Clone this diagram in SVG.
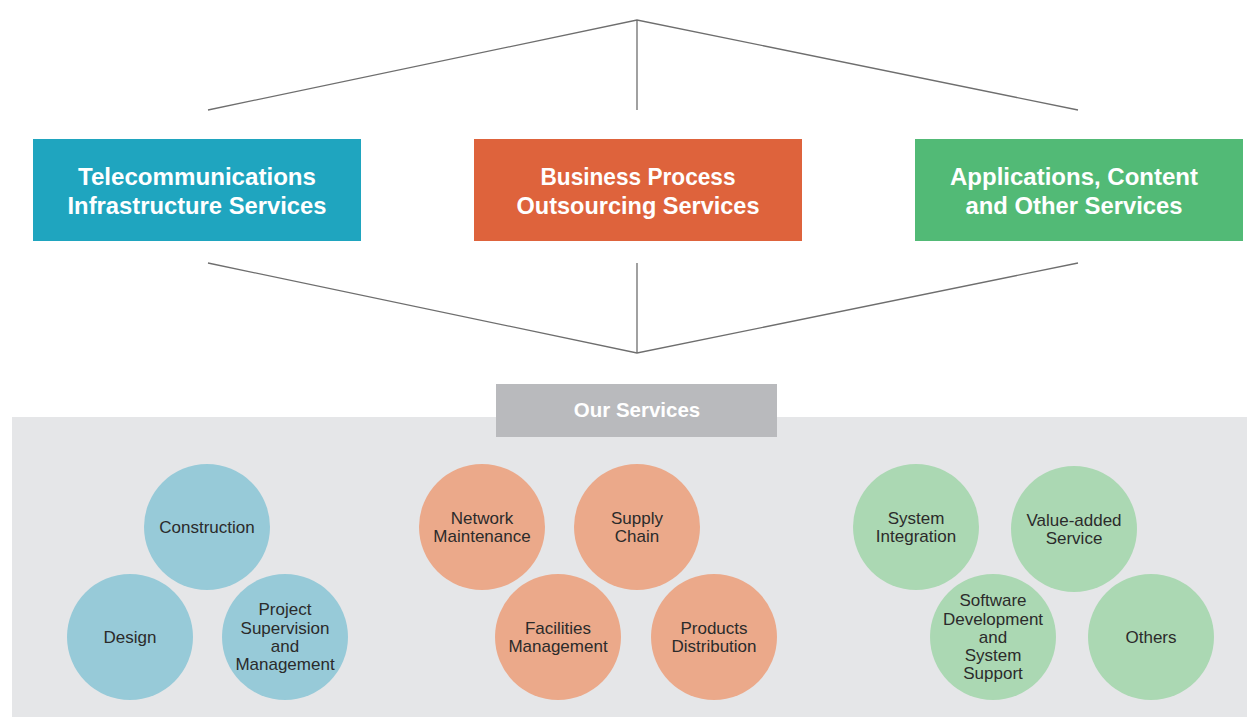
<svg xmlns="http://www.w3.org/2000/svg" width="1247" height="717" viewBox="0 0 1247 717">
  <style>
    .box-title { font-family: "Liberation Sans", Arial, sans-serif; font-weight: bold; font-size: 24px; fill: #ffffff; text-anchor: middle; }
    .tag { font-family: "Liberation Sans", Arial, sans-serif; font-weight: bold; font-size: 20.5px; fill: #ffffff; text-anchor: middle; }
    .bubble { font-family: "Liberation Sans", Arial, sans-serif; font-size: 17px; fill: #2b2b2b; text-anchor: middle; }
    .link { stroke: #6e6e6e; stroke-width: 1.3; fill: none; }
    .blue { fill: #97CAD8; }
    .orange { fill: #EBA98A; }
    .green { fill: #ABD8B3; }
  </style>

  <rect x="0" y="0" width="1247" height="717" fill="#ffffff"/>

  <!-- connectors: fan lines above and below the three categories -->
  <g id="connectors">
    <polyline class="link" points="208,110 637,20 1078,110"/>
    <line class="link" x1="637" y1="20" x2="637" y2="110"/>
    <polyline class="link" points="208,263 637,353 1078,263"/>
    <line class="link" x1="637" y1="263" x2="637" y2="353"/>
  </g>

  <!-- service categories -->
  <g id="telecom-infrastructure">
    <rect x="33" y="139" width="328" height="102" fill="#1FA5BF"/>
    <text class="box-title" x="197" y="185" textLength="238" lengthAdjust="spacingAndGlyphs">Telecommunications</text>
    <text class="box-title" x="197" y="214" textLength="259" lengthAdjust="spacingAndGlyphs">Infrastructure Services</text>
  </g>
  <g id="business-process">
    <rect x="474" y="139" width="328" height="102" fill="#DE633C"/>
    <text class="box-title" x="638" y="185" textLength="195" lengthAdjust="spacingAndGlyphs">Business Process</text>
    <text class="box-title" x="638" y="214" textLength="243" lengthAdjust="spacingAndGlyphs">Outsourcing Services</text>
  </g>
  <g id="applications-content">
    <rect x="915" y="139" width="328" height="102" fill="#52BA76"/>
    <text class="box-title" x="1074" y="185" textLength="248" lengthAdjust="spacingAndGlyphs">Applications, Content</text>
    <text class="box-title" x="1074" y="214" textLength="217" lengthAdjust="spacingAndGlyphs">and Other Services</text>
  </g>

  <!-- services panel -->
  <g id="services-panel">
    <rect x="12" y="417" width="1235" height="300" fill="#E5E6E8"/>
  </g>
  <g id="our-services">
    <rect x="496" y="384" width="281" height="53" fill="#B9BABD"/>
    <text class="tag" x="637" y="417">Our Services</text>
  </g>

  <!-- telecom infrastructure bubbles -->
  <g id="construction">
    <circle class="blue" cx="207" cy="527" r="63"/>
    <text class="bubble" x="207" y="533">Construction</text>
  </g>
  <g id="design">
    <circle class="blue" cx="130" cy="637" r="63"/>
    <text class="bubble" x="130" y="643">Design</text>
  </g>
  <g id="project-supervision">
    <circle class="blue" cx="285" cy="637" r="63"/>
    <text class="bubble" x="285" y="615">Project</text>
    <text class="bubble" x="285" y="633.5">Supervision</text>
    <text class="bubble" x="285" y="652">and</text>
    <text class="bubble" x="285" y="670">Management</text>
  </g>

  <!-- business process bubbles -->
  <g id="network-maintenance">
    <circle class="orange" cx="482" cy="527" r="63"/>
    <text class="bubble" x="482" y="524">Network</text>
    <text class="bubble" x="482" y="542">Maintenance</text>
  </g>
  <g id="supply-chain">
    <circle class="orange" cx="637" cy="527" r="63"/>
    <text class="bubble" x="637" y="524">Supply</text>
    <text class="bubble" x="637" y="542">Chain</text>
  </g>
  <g id="facilities-management">
    <circle class="orange" cx="558" cy="637" r="63"/>
    <text class="bubble" x="558" y="634">Facilities</text>
    <text class="bubble" x="558" y="652">Management</text>
  </g>
  <g id="products-distribution">
    <circle class="orange" cx="714" cy="637" r="63"/>
    <text class="bubble" x="714" y="634">Products</text>
    <text class="bubble" x="714" y="652">Distribution</text>
  </g>

  <!-- applications bubbles -->
  <g id="system-integration">
    <circle class="green" cx="916" cy="527" r="63"/>
    <text class="bubble" x="916" y="524">System</text>
    <text class="bubble" x="916" y="542">Integration</text>
  </g>
  <g id="value-added">
    <circle class="green" cx="1074" cy="529" r="63"/>
    <text class="bubble" x="1074" y="526">Value-added</text>
    <text class="bubble" x="1074" y="544">Service</text>
  </g>
  <g id="software-development">
    <circle class="green" cx="993" cy="637" r="63"/>
    <text class="bubble" x="993" y="606">Software</text>
    <text class="bubble" x="993" y="624.5">Development</text>
    <text class="bubble" x="993" y="643">and</text>
    <text class="bubble" x="993" y="661">System</text>
    <text class="bubble" x="993" y="679">Support</text>
  </g>
  <g id="others">
    <circle class="green" cx="1151" cy="637" r="63"/>
    <text class="bubble" x="1151" y="643">Others</text>
  </g>
</svg>
